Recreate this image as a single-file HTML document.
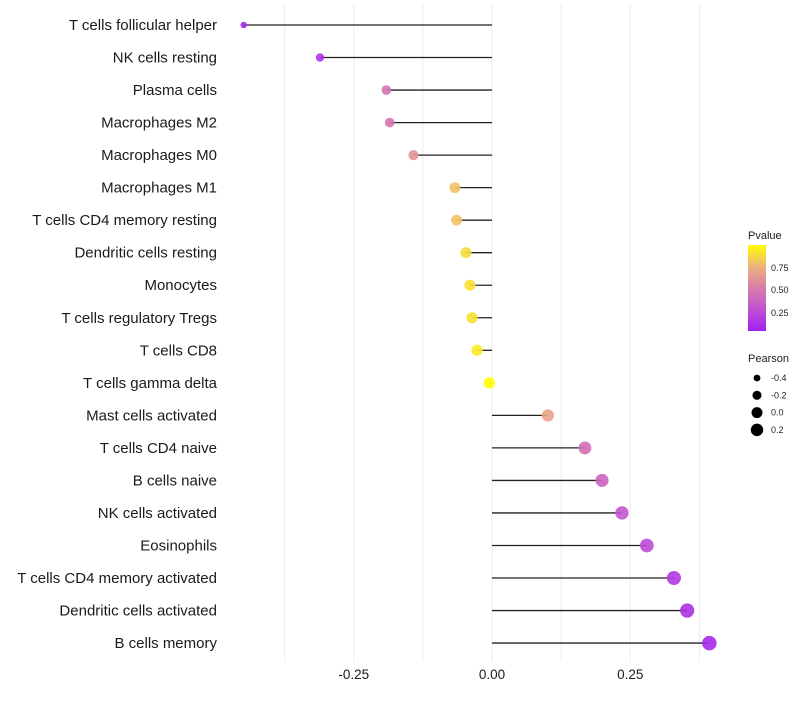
<!DOCTYPE html>
<html><head><meta charset="utf-8"><style>
body{margin:0;background:#fff;font-family:"Liberation Sans",sans-serif;}
svg text{font-family:"Liberation Sans",sans-serif;}
</style></head><body>
<svg id="chart" width="800" height="700" viewBox="0 0 800 700">
<defs>
<linearGradient id="pg" x1="0" y1="1" x2="0" y2="0">
<stop offset="0" stop-color="#a020f0"/><stop offset="0.25" stop-color="#c052d2"/>
<stop offset="0.5" stop-color="#d87ca8"/><stop offset="0.75" stop-color="#eeb37c"/>
<stop offset="1" stop-color="#ffff00"/></linearGradient>
</defs>
<g id="grid"></g>
<g id="marks"></g>
<g id="ylabels"></g>
<g id="xlabels"></g>
<g>
<text x="748" y="239" font-size="11" fill="#222">Pvalue</text>
<rect x="748" y="245" width="18" height="86" fill="url(#pg)"/>
<text x="771" y="271" font-size="9" fill="#222">0.75</text>
<text x="771" y="293" font-size="9" fill="#222">0.50</text>
<text x="771" y="316" font-size="9" fill="#222">0.25</text>
</g>
<g id="sizeleg">
<text x="748" y="362" font-size="11" fill="#222">Pearson</text>
</g>
</svg>
<script>
const categories=["T cells follicular helper","NK cells resting","Plasma cells","Macrophages M2","Macrophages M0","Macrophages M1","T cells CD4 memory resting","Dendritic cells resting","Monocytes","T cells regulatory  Tregs ","T cells CD8","T cells gamma delta","Mast cells activated","T cells CD4 naive","B cells naive","NK cells activated","Eosinophils","T cells CD4 memory activated","Dendritic cells activated","B cells memory"];
const pearson=[-0.449,-0.311,-0.191,-0.185,-0.142,-0.067,-0.064,-0.047,-0.040,-0.036,-0.027,-0.005,0.101,0.168,0.199,0.235,0.280,0.329,0.353,0.393];
const pvalue=[0.04,0.10,0.45,0.45,0.60,0.80,0.80,0.88,0.90,0.90,0.93,1.00,0.68,0.42,0.36,0.27,0.21,0.13,0.09,0.05];
const xTicks=[-0.25,0,0.25];
const xTickLabels=["-0.25","0.00","0.25"];
const gridVals=[-0.375,-0.25,-0.125,0,0.125,0.25,0.375];
const sizeLegendVals=[-0.4,-0.2,0.0,0.2];
const sizeLegendLabels=["-0.4","-0.2","0.0","0.2"];

const NS="http://www.w3.org/2000/svg";
const x=v=>492+v*553;
const y=i=>25+i*32.53;
const r=v=>Math.sqrt(Math.max(4,33+50*v));
const stops=[[0,[160,32,240]],[0.25,[192,82,210]],[0.5,[216,124,168]],[0.75,[238,179,124]],[1,[255,255,0]]];
function col(p){for(let k=1;k<stops.length;k++){if(p<=stops[k][0]){const a=stops[k-1],b=stops[k],t=(p-a[0])/(b[0]-a[0]);return 'rgb('+a[1].map((c,j)=>Math.round(c+(b[1][j]-c)*t)).join(',')+')';}}return 'rgb(255,255,0)';}
function mk(tag,attrs,parent){const e=document.createElementNS(NS,tag);for(const k in attrs)e.setAttribute(k,attrs[k]);parent.appendChild(e);return e;}
const grid=document.getElementById('grid'),marks=document.getElementById('marks'),yl=document.getElementById('ylabels'),xl=document.getElementById('xlabels'),sl=document.getElementById('sizeleg');
gridVals.forEach(v=>{const l=mk('line',{x1:x(v),x2:x(v),y1:5,y2:662,stroke:'#ebebeb','stroke-width':1},grid);

});
categories.forEach((c,i)=>{
const t=mk('text',{x:217,y:y(i)+5,'font-size':15,'text-anchor':'end',fill:'#1a1a1a'},yl);t.textContent=c;


const s=mk('line',{x1:x(0),x2:x(pearson[i]),y1:y(i),y2:y(i),stroke:'#222','stroke-width':1.3},marks);


const p=mk('circle',{cx:x(pearson[i]),cy:y(i),r:r(pearson[i]),fill:col(pvalue[i]),'fill-opacity':0.9},marks);


});
xTicks.forEach((v,i)=>{const t=mk('text',{x:x(v),y:679,'font-size':13.5,'text-anchor':'middle',fill:'#1a1a1a'},xl);t.textContent=xTickLabels[i];

});
sizeLegendVals.forEach((v,i)=>{const cy=378+i*17.3;
const c=mk('circle',{cx:757,cy:cy,r:r(v)*0.95,fill:'#000'},sl);


const t=mk('text',{x:771,y:cy+3,'font-size':9,fill:'#222'},sl);t.textContent=sizeLegendLabels[i];

});
</script>
</body></html>
